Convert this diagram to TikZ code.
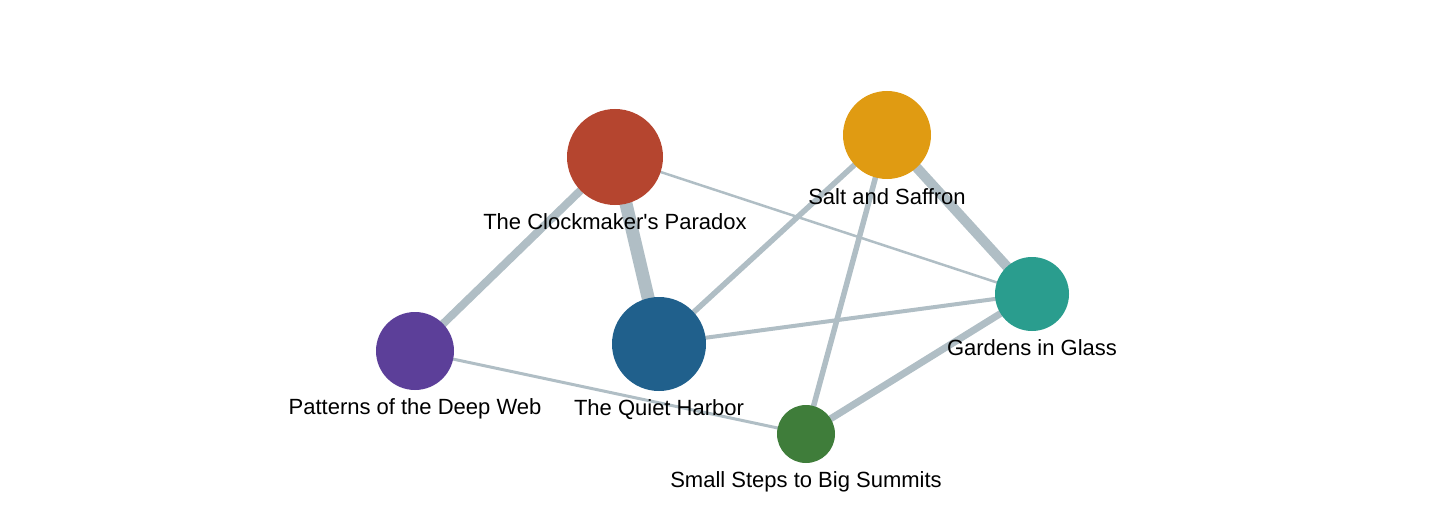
\documentclass[tikz,border=0pt]{standalone}
\usepackage{fontspec}
\setmainfont{Liberation Sans}[Ligatures=TeXOff]
\definecolor{edgec}{HTML}{B0BEC5}
\definecolor{cclock}{HTML}{B5452F}
\definecolor{csalt}{HTML}{E09B12}
\definecolor{cgard}{HTML}{2A9D8E}
\definecolor{cpatt}{HTML}{5C3F99}
\definecolor{cquiet}{HTML}{20608C}
\definecolor{csmall}{HTML}{3F7D3A}
\tikzset{
  bubble/.style={circle, inner sep=0pt, outer sep=0pt, draw=none},
  lbl/.style={anchor=base, inner sep=0pt, font=\fontsize{22}{26}\selectfont, text=black},
  link/.style={draw=edgec}
}
\begin{document}
\begin{tikzpicture}[x=1pt,y=-1pt]
\useasboundingbox (0,0) rectangle (1440,516);
% node positions
\coordinate (clock) at (615,157);
\coordinate (salt) at (887,135);
\coordinate (gard) at (1032,294);
\coordinate (patt) at (415,351);
\coordinate (quiet) at (659,344);
\coordinate (small) at (806,434);
% edges
\draw[link, line width=2.5pt] (clock) -- (gard);
\draw[link, line width=3pt] (patt) -- (small);
\draw[link, line width=8pt] (clock) -- (patt);
\draw[link, line width=13pt] (clock) -- (quiet);
\draw[link, line width=5.5pt] (salt) -- (quiet);
\draw[link, line width=5.5pt] (salt) -- (small);
\draw[link, line width=10pt] (salt) -- (gard);
\draw[link, line width=4pt] (quiet) -- (gard);
\draw[link, line width=7pt] (gard) -- (small);
% nodes
\node[bubble, fill=cclock, minimum size=96pt] (nclock) at (clock) {};
\node[bubble, fill=csalt, minimum size=88pt] (nsalt) at (salt) {};
\node[bubble, fill=cgard, minimum size=74pt] (ngard) at (gard) {};
\node[bubble, fill=cpatt, minimum size=78pt] (npatt) at (patt) {};
\node[bubble, fill=cquiet, minimum size=94pt] (nquiet) at (quiet) {};
\node[bubble, fill=csmall, minimum size=58pt] (nsmall) at (small) {};
% labels
\node[lbl] (lclock) at (615,229) {The Clockmaker's Paradox};
\node[lbl] (lsalt) at (887,204) {Salt and Saffron};
\node[lbl] (lgard) at (1032,355) {Gardens in Glass};
\node[lbl] (lpatt) at (415,414) {Patterns of the Deep Web};
\node[lbl] (lquiet) at (659,415) {The Quiet Harbor};
\node[lbl] (lsmall) at (806,487) {Small Steps to Big Summits};
\end{tikzpicture}
\end{document}
